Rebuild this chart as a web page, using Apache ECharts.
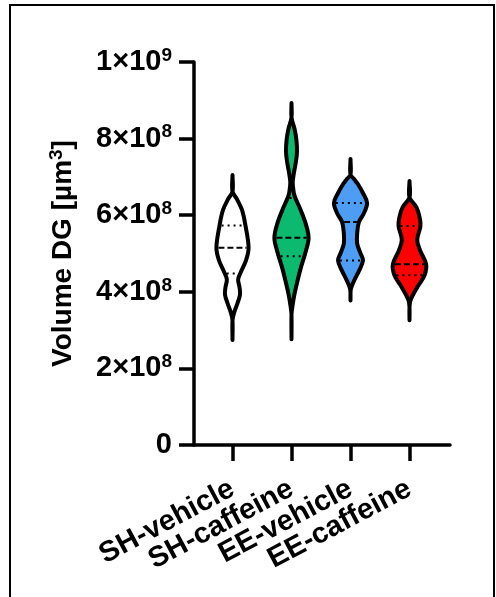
<!DOCTYPE html>
<html>
<head>
<meta charset="utf-8">
<script src="https://cdn.jsdelivr.net/npm/echarts@6/dist/echarts.min.js"></script>
<style>
  html, body { margin: 0; padding: 0; background: #fff; }
  #main { width: 496px; height: 597px; }
</style>
</head>
<body>
<div id="main"></div>
<script>
// groups on the x axis
var categories = ['SH-vehicle', 'SH-caffeine', 'EE-vehicle', 'EE-caffeine'];

// violin outlines: values (x10^8 um^3), relative density (0..1)
var violinValues = [
  [7.05, 6.62, 6.42, 6.13, 5.70, 5.15, 4.82, 4.50, 4.32, 4.12, 3.93, 3.70, 3.45, 3.25, 2.74],
  [8.93, 8.55, 8.25, 7.95, 7.65, 7.40, 7.10, 6.85, 6.60, 6.47, 6.13, 5.78, 5.41, 5.08, 4.65, 4.30, 3.95, 3.61, 3.40, 2.76],
  [7.47, 7.06, 6.95, 6.82, 6.56, 6.32, 6.04, 5.82, 5.52, 5.26, 5.00, 4.82, 4.56, 4.30, 4.09, 3.95, 3.77],
  [6.89, 6.47, 6.21, 5.95, 5.72, 5.35, 5.08, 4.72, 4.43, 4.13, 3.78, 3.60, 3.26]
];
var violinDensity = [
  [0, 0, 0.26, 0.56, 0.77, 0.94, 0.79, 0.47, 0.33, 0.41, 0.44, 0.29, 0.09, 0, 0],
  [0, 0, 0.18, 0.29, 0.32, 0.26, 0.14, 0.07, 0.13, 0.21, 0.54, 0.83, 1, 0.85, 0.56, 0.36, 0.18, 0.05, 0, 0],
  [0, 0, 0.2, 0.42, 0.75, 0.97, 0.77, 0.49, 0.39, 0.39, 0.59, 0.73, 0.51, 0.22, 0.03, 0, 0],
  [0, 0, 0.40, 0.59, 0.64, 0.45, 0.62, 0.97, 0.88, 0.47, 0.06, 0, 0]
];
var medians = [5.15, 5.41, 5.82, 4.72];
var lowerQuartiles = [4.48, 4.93, 4.82, 4.43];
var upperQuartiles = [5.73, 6.45, 6.32, 5.72];

var yTicks = [0, 2e8, 4e8, 6e8, 8e8, 1e9];

var fillColors = ['#ffffff', '#0bba6f', '#4d9df5', '#ff0000'];
var FONT = '"Liberation Sans", Arial, sans-serif';

function halfAt(vals, dens, v) {
  for (var k = 0; k < vals.length - 1; k++) {
    if (v <= vals[k] && v >= vals[k + 1]) {
      var t = (vals[k] - v) / (vals[k] - vals[k + 1]);
      return dens[k] + t * (dens[k + 1] - dens[k]);
    }
  }
  return 0;
}

function renderViolin(params, api) {
  var i = api.value(0);
  var vals = violinValues[i], dens = violinDensity[i];
  var cx = api.coord([i, 0])[0];
  var band = api.size([1, 0])[0];
  var maxHalf = band * 0.29;
  var right = [], left = [];
  for (var k = 0; k < vals.length; k++) {
    var y = api.coord([i, vals[k] * 1e8])[1];
    right.push([cx + dens[k] * maxHalf, y]);
    left.unshift([cx - dens[k] * maxHalf, y]);
  }
  var children = [{
    type: 'polygon',
    shape: { points: right.concat(left), smooth: 0.35 },
    style: { fill: fillColors[i], stroke: '#000', lineWidth: 4, lineJoin: 'round' }
  }];
  function hline(v, dash) {
    var y = api.coord([i, v * 1e8])[1];
    var h = Math.max(halfAt(vals, dens, v) * maxHalf - 2, 0);
    children.push({
      type: 'line',
      shape: { x1: cx - h, y1: y, x2: cx + h, y2: y },
      style: { stroke: '#000', lineWidth: 2, lineDash: dash }
    });
  }
  hline(medians[i], [6, 3]);
  hline(lowerQuartiles[i], [2, 4]);
  hline(upperQuartiles[i], [2, 4]);
  return { type: 'group', children: children };
}

var chart = echarts.init(document.getElementById('main'));

var supStyle = { fontSize: 19, fontWeight: 'bold', fontFamily: FONT, lineHeight: 19, verticalAlign: 'top', color: '#000' };

var option = {
  backgroundColor: '#fff',
  animation: false,
  graphic: [{
    type: 'rect',
    shape: { x: 10, y: 5, width: 484, height: 700 },
    style: { fill: 'none', stroke: '#000', lineWidth: 2 },
    silent: true
  }],
  grid: [
    { left: 194, right: 46, top: 62, bottom: 152, outerBoundsMode: 'none' },
    { left: 203, right: 57, top: 62, bottom: 152, outerBoundsMode: 'none' }
  ],
  xAxis: [
    {
      type: 'value', gridIndex: 0, min: 0, max: 1,
      axisLine: { show: true, lineStyle: { color: '#000', width: 3.5 } },
      axisTick: { show: false }, axisLabel: { show: false }, splitLine: { show: false }
    },
    {
      type: 'category', gridIndex: 1, data: categories,
      axisLine: { show: false },
      axisTick: { show: true, alignWithLabel: true, length: 16, lineStyle: { color: '#000', width: 3.5 } },
      axisLabel: {
        interval: 0, rotate: 28, margin: 42, color: '#000',
        fontSize: 29, fontWeight: 'bold', fontFamily: FONT
      },
      splitLine: { show: false }
    }
  ],
  yAxis: [
    {
      type: 'value', gridIndex: 0, min: 0, max: 1e9, interval: 2e8,
      name: 'Volume DG [µm{sup|3}]',
      nameLocation: 'middle', nameGap: 115, nameRotate: 90,
      nameTextStyle: {
        color: '#000', fontSize: 28, fontWeight: 'bold', fontFamily: FONT, lineHeight: 32,
        rich: { sup: supStyle }
      },
      axisLine: { show: true, lineStyle: { color: '#000', width: 3.5 } },
      axisTick: { show: true, length: 15, lineStyle: { color: '#000', width: 3.5 } },
      splitLine: { show: false },
      axisLabel: {
        margin: 22, color: '#000', fontSize: 29, fontWeight: 'bold', fontFamily: FONT, lineHeight: 32,
        formatter: function (v) {
          if (yTicks.indexOf(v) < 0) return '';
          if (v === 0) return '0';
          var e = Math.floor(Math.log10(v) + 1e-9);
          var m = Math.round(v / Math.pow(10, e));
          return m + '×10{sup|' + e + '}';
        },
        rich: { sup: supStyle }
      }
    },
    {
      type: 'value', gridIndex: 1, min: 0, max: 1e9, interval: 2e8, show: false
    }
  ],
  series: [{
    type: 'custom',
    xAxisIndex: 1,
    yAxisIndex: 1,
    renderItem: renderViolin,
    data: categories.map(function (c, i) { return [i]; }),
    encode: { x: 0 },
    clip: false
  }]
};

chart.setOption(option);
</script>
</body>
</html>
